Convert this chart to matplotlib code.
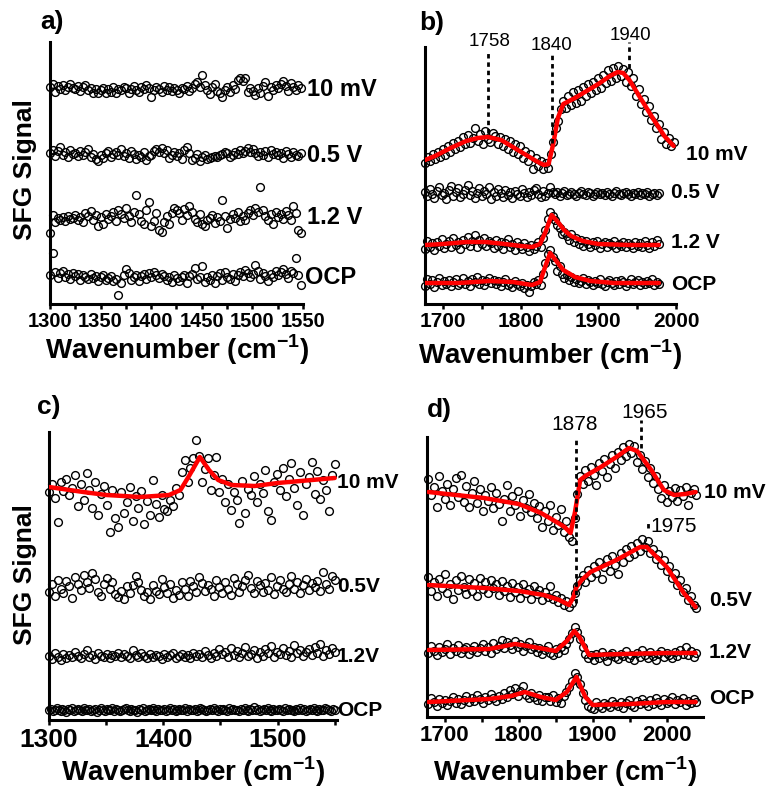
import numpy as np
import matplotlib
matplotlib.use("Agg")
import matplotlib.pyplot as plt
from matplotlib.ticker import FixedLocator

plt.rcParams['font.family'] = ['Liberation Sans', 'DejaVu Sans']
plt.rcParams['mathtext.fontset'] = 'custom'
plt.rcParams['mathtext.rm'] = 'Liberation Sans'
plt.rcParams['mathtext.bf'] = 'Liberation Sans:bold'

# ---------------- DATA (SFG signal, a.u.) ----------------
labels_a = ["10 mV", "0.5 V", "1.2 V", "OCP"]
labels_b = ["10 mV", "0.5 V", "1.2 V", "OCP"]
labels_c = ["10 mV", "0.5V", "1.2V", "OCP"]
labels_d = ["10 mV", "0.5V", "1.2V", "OCP"]

# panel a : offsets of each trace and signal around it
a_range = (1300, 1548)
a_offsets = [214, 149, 86, 27]
a_10mV = [3,6,-2,4,1,5,0,3,6,2, 1,4,-1,3,5,0,2,-3,1,-3, 0,2,-3,1,-2,3,-3,1,0,3,
          2,-3,1,4,0,-2,3,1,5,2, -7,0,3,1,-2,4,0,3,-1,2, 0,-3,2,1,4,-1,2,6,8,3,
          15,5,0,-4,3,6,-1,-3,-7,0, 3,-2,5,1,10,12,9,12,-2,2, -1,-5,2,-3,4,8,-6,3,0,5,
          2,6,9,4,-1,7,3,0,5,2]
a_05V = [2,5,-1,4,8,0,3,-2,5,1, 2,-1,4,0,3,6,-2,1,-4,-6, 0,-3,2,4,-2,1,3,0,6,-1,
         2,-3,4,1,-4,0,-2,3,-5,-1, 0,4,6,3,7,2,5,-3,0,3, -1,2,-4,5,8,2,-5,-3,1,-6,
         -2,0,-4,-3,-2,-1,-2,0,1,3, 2,-2,0,3,1,5,2,4,7,3, 6,2,-1,3,0,4,-2,5,1,3,
         0,2,-3,4,1,-2,3,0,-1,2]
a_12V = [-15,3,-4,0,-2,1,-3,2,-1,0, 3,-2,1,-4,5,2,7,-2,3,-8, 1,-6,4,-1,2,6,-3,8,4,0,
         10,2,-4,6,23,4,-3,-6,8,16, -8,-3,5,-12,-14,-4,2,-6,5,10, 8,5,-2,9,3,12,6,-1,-4,4,
         -6,-8,-2,0,3,-5,1,-3,18,2, -10,-1,4,0,6,-3,2,-2,5,8, 3,10,6,31,8,2,-2,4,-6,6,
         1,4,-1,7,3,-2,12,5,-12,-15]
a_OCP = [2,24,5,-1,4,6,0,3,-2,4, 1,3,-3,2,0,-2,3,-1,1,-4, 0,2,-3,-1,1,-4,-2,-18,-6,2,
         8,4,-3,0,2,-4,1,3,-2,4, 0,5,2,-1,3,1,-3,0,-5,2, -1,-4,0,2,-6,1,3,9,-2,0,
         11,-5,0,-3,2,-6,1,4,-3,5, 0,-2,3,-4,2,5,1,7,4,0, 3,12,6,-2,4,1,-4,3,0,6,
         2,5,8,3,-1,6,4,19,2,-8]

# panel b
b10_range = (1677, 1997)
b_range = (1677, 1978)
b_10mV = [141,147,143,150,145,152,147,155,149,158, 152,161,155,163,157,167,160,169,161,166,
          176,163,170,160,173,165,162,171,168,160, 167,158,165,155,163,152,160,150,158,146,
          153,143,150,135,146,138,143,135,141,136, 150,162,176,183,195,203,196,208,199,212,
          201,214,203,217,208,220,211,222,214,226, 216,229,221,234,223,236,226,238,228,235,
          222,232,218,226,208,215,200,205,192,198, 184,188,176,180,165,172,160,166,158,162]
b_05V = [112,108,115,110,106,113,117,109,111,105, 114,118,108,112,116,107,110,114,119,109,
         113,106,111,116,108,113,110,117,105,112, 108,115,111,107,114,109,112,106,113,110,
         108,115,111,107,112,109,114,116,110,107, 113,108,111,117,112,
         110,112,108,111,113,109,110,112,110,108, 111,113,110,109,112,111,108,110,112,110,
         111,109,112,110,108,111,113,110,109,111, 112,110,108,111,110,112,109,111,110,112,
         108,110,111,109,111]
b_12V = [55,63,57,61,54,62,58,65,56,60, 63,57,66,59,62,55,64,60,67,58, 63,69,57,64,60,66,58,63,61,56,
         64,58,62,55,61,65,57,60,54,62, 58,55,61,57,53,59,55,58,62,57, 66,74,85,92,88,84,79,76,70,72,
         68,64,70,62,66,60,64,58,63,60, 57,62,59,63,56,60,62,57,61,59, 63,56,60,58,62,57,61,59,56,62,
         58,61,57,63,59,56,62,58,64,60]
b_OCP = [18,25,20,24,17,22,26,19,23,20, 24,18,22,25,19,21,26,20,23,18, 25,22,27,20,24,19,23,26,21,24,
         20,23,18,22,25,19,21,17,23,20, 18,21,16,19,12,18,22,20,24,19, 30,41,50,54,47,43,33,38,30,26,
         29,24,27,22,25,21,23,26,20,24, 22,19,23,21,25,20,18,22,24,21, 19,23,20,24,22,18,21,25,20,22,
         24,19,22,20,23,21,25,19,22,20]
b10_fit_x = [1677,1690,1710,1730,1745,1758,1775,1790,1805,1820,1830,1836,1842,1848,1855,1870,
             1885,1900,1915,1925,1932,1940,1955,1970,1985,1997]
b10_fit_y = [144,148,156,163,166,167,164,157,150,143,139,140,160,186,200,206,
             213,220,228,232,231,224,205,186,168,158]
b12_fit_x = [1677,1700,1730,1755,1780,1800,1815,1825,1832,1840,1848,1856,1865,1880,1900,1940,1978]
b12_fit_y = [59,60,62,62,60,58,57,60,72,89,82,74,68,63,60,59,59]
bOCP_fit_x = [1677,1720,1760,1790,1815,1825,1832,1838,1845,1855,1870,1890,1920,1978]
bOCP_fit_y = [21,21,23,22,19,22,38,51,44,34,27,23,21,21]
b_peaks = [1758, 1840, 1940]

# panel c
c_range = (1300, 1550)
c_10mV = [228,236,222,198,238,229,241,225,232,245, 214,236,220,247,230,212,238,205,226,234,
          215,188,230,202,193,228,207,218,233,199, 224,212,229,196,219,205,240,216,203,225,
          211,209,220,214,232,225,248,260,238,252, 262,280,264,238,251,262,230,245,263,228,
          241,218,236,210,228,220,197,239,207,231, 225,244,218,236,227,250,209,200,238,246,
          230,252,224,241,257,232,215,248,205,236, 243,258,226,249,221,240,230,209,245,256]
c_05V = [128,136,124,140,131,127,139,134,122,143, 136,130,145,138,132,147,141,128,124,136,
         142,131,138,126,123,129,121,134,127,135, 144,138,130,124,128,121,135,129,126,141,
         133,127,136,122,130,125,138,131,124,139, 134,128,143,137,129,135,131,124,140,133,
         127,138,131,125,142,136,128,134,140,145, 132,127,139,135,128,137,130,143,126,134,
         140,131,128,136,144,131,138,127,135,141, 130,137,133,139,129,148,136,131,144,140]
c_12V = [64,61,67,63,60,66,62,65,63,68, 64,62,66,70,63,65,61,67,64,63, 66,62,65,64,67,63,66,64,62,70,
         65,63,67,64,62,66,63,65,64,61, 66,63,65,67,62,64,66,63,65,62, 67,64,66,63,69,65,62,67,64,71,
         66,68,63,72,65,69,63,67,73,64, 66,70,62,68,64,71,67,74,63,68, 66,72,65,69,63,75,67,70,64,68,
         71,65,73,67,76,64,70,66,72,68]
c_OCP = [10,11,9,10,12,10,9,11,10,8, 11,10,12,9,10,11,10,9,12,10, 10,11,9,10,11,8,10,12,10,9,
         11,10,10,12,9,11,10,9,10,11, 12,10,9,11,10,10,8,11,10,12, 9,10,11,10,12,10,9,11,10,10,
         11,9,10,12,10,11,9,10,11,10, 10,12,9,11,10,10,11,9,10,12, 11,10,9,10,11,10,12,10,9,11,
         10,11,10,9,12,10,11,10,10,9, 11,10,12,10,9,11,10,13,10,11, 9,10,11,10,12,10,9,11,10,10,
         11,10,9,12,10,11,10,10,9,11, 10,12,10,11,9,10,11,10,12,10, 9,11,10,10,12,11,10,9,11,10]
c10_fit_x = [1300,1330,1350,1380,1405,1415,1422,1432,1440,1448,1460,1480,1500,1530,1550]
c10_fit_y = [233,228,225,223,225,230,243,263,250,240,235,234,237,240,242]

# panel d
d_range = (1678, 2040)
d_10mV = [238,222,230,210,241,226,218,233,212,228, 239,220,242,215,231,210,224,236,214,228,
          206,222,216,230,209,224,213,196,218,232, 206,221,212,226,201,217,209,223,205,214,
          199,211,190,206,196,212,187,200,192,208, 185,196,180,176,199,223,241,233,247,236,
          250,242,232,254,246,258,240,253,262,249, 265,257,270,261,273,264,271,255,262,248,
          256,240,249,234,241,228,219,232,215,226, 220,229,216,227,221,230,212,224,228,222]
d_05V = [140,126,135,121,138,129,143,124,133,118, 137,127,141,130,123,138,126,134,121,139,
         128,135,124,137,129,133,122,136,126,131, 120,134,125,130,119,133,124,128,118,131,
         123,127,117,125,120,131,118,122,115,119, 112,116,110,114,124,131,137,142,135,147,
         140,151,144,155,138,150,158,146,161,152, 143,164,155,168,160,171,163,174,166,178,
         170,176,164,168,158,163,152,157,146,151, 139,144,132,137,125,129,117,121,112,109]
d_12V = [64,71,66,62,70,65,68,73,63,69, 66,72,64,68,70,63,67,71,65,69, 73,66,70,64,74,68,71,77,69,75,
         72,68,76,70,73,66,71,75,68,70, 65,69,63,67,71,64,62,68,64,70, 67,73,78,84,90,85,78,70,63,59,
         62,57,63,59,65,61,56,62,64,60, 58,63,61,66,59,62,57,64,60,67, 62,59,65,61,57,63,66,60,64,62,
         59,65,61,67,63,70,62,66,60,64]
d_OCP = [13,19,15,11,18,14,17,12,16,20, 14,18,13,17,21,15,19,16,22,18, 14,20,17,23,19,16,21,18,24,20,
         27,23,29,21,26,31,22,19,24,20, 17,22,16,20,20,16,22,15,19,14, 21,25,30,36,44,40,33,24,17,11,
         9,8,15,11,9,14,12,10,16,13, 11,15,9,14,17,12,10,16,13,18, 14,11,17,13,19,15,12,18,14,16,
         20,13,17,15,19,12,16,14,18,15]
d10_fit_x = [1678,1753,1800,1830,1851,1862,1870,1876,1883,1890,1911,1930,1949,1960,1979,1996,2010,2025,2039]
d10_fit_y = [225,219,213,204,195,190,184,205,237,241,250,259,269,266,247,227,222,223,225]
d05_fit_x = [1678,1753,1800,1834,1855,1868,1874,1878,1885,1897,1932,1964,1973,2000,2023,2039]
d05_fit_y = [132,129,126,122,117,112,120,130,137,145,157,170,170,150,124,110]
d12_fit_x = [1678,1760,1795,1820,1850,1865,1875,1882,1895,1940,2000,2039]
d12_fit_y = [67,68,73,70,66,76,86,80,62,63,64,64]
dOCP_fit_x = [1678,1760,1790,1808,1830,1850,1865,1878,1890,1900,1950,2000,2039]
dOCP_fit_y = [15,18,21,25,20,17,25,40,20,12,13,15,15]
d_peaks = [1878, 1965, 1975]

# ---------------- FIGURE ----------------
W, H = 768, 793
fig = plt.figure(figsize=(W / 100, H / 100), dpi=100)
fig.patch.set_facecolor('white')


def add_ax(l, t, r, b):
    return fig.add_axes([l / W, 1 - b / H, (r - l) / W, (b - t) / H])


def ftext(px, py, s, **kw):
    fig.text(px / W, 1 - py / H, s, **kw)


def style(ax, xlim, ylim, major, minor, fs):
    ax.set_xlim(*xlim)
    ax.set_ylim(*ylim)
    for s in ['top', 'right']:
        ax.spines[s].set_visible(False)
    for s in ['left', 'bottom']:
        ax.spines[s].set_linewidth(2.2)
    ax.set_yticks([])
    ax.set_xticks(major)
    ax.set_xticklabels([str(v) for v in major], fontsize=fs, fontweight='bold')
    ax.xaxis.set_minor_locator(FixedLocator(minor))
    ax.tick_params(axis='x', which='both', direction='out', length=3.5, width=1.8, pad=2)


mk = dict(ls='none', marker='o', ms=5.6, mfc='none', mec='black', mew=1.0, clip_on=False, zorder=2)
fit_kw = dict(color='#ff0000', lw=3.2, solid_joinstyle='round', solid_capstyle='round', zorder=3)
dash_kw = dict(color='black', lw=2.0, ls=(0, (1.6, 1.4)), clip_on=False, zorder=4)

# panel a
axA = add_ax(50, 42, 303, 304)
for off, ser in zip(a_offsets, [a_10mV, a_05V, a_12V, a_OCP]):
    x = np.linspace(a_range[0], a_range[1], len(ser))
    axA.plot(x, np.array(ser) + off, **mk)
style(axA, (1300, 1550), (0, 262), [1300, 1350, 1400, 1450, 1500, 1550],
      [1325, 1375, 1425, 1475, 1525], 14.5)

# panel b
axB = add_ax(425, 47, 676, 304)
axB.plot(np.linspace(b10_range[0], b10_range[1], len(b_10mV)), b_10mV, **mk)
for ser in [b_05V, b_12V, b_OCP]:
    axB.plot(np.linspace(b_range[0], b_range[1], len(ser)), ser, **mk)
axB.plot(b10_fit_x, b10_fit_y, **fit_kw)
axB.plot(b12_fit_x, b12_fit_y, **fit_kw)
axB.plot(bOCP_fit_x, bOCP_fit_y, **fit_kw)
style(axB, (1677, 2000), (0, 257), [1700, 1800, 1900, 2000], [1750, 1850, 1950], 15)
axB.plot([b_peaks[0]] * 2, [171, 254], **dash_kw)
axB.plot([b_peaks[1]] * 2, [161, 249], **dash_kw)
axB.plot([b_peaks[2]] * 2, [236, 262], **dash_kw)

# panel c
axC = add_ax(49, 432, 337, 720)
for ser in [c_10mV, c_05V, c_12V, c_OCP]:
    axC.plot(np.linspace(c_range[0], c_range[1], len(ser)), ser, **mk)
axC.plot(c10_fit_x, c10_fit_y, **fit_kw)
style(axC, (1300, 1552), (0, 288), [1300, 1400, 1500], [1350, 1450, 1550], 19)

# panel d
axD = add_ax(427, 437, 703, 717)
for ser in [d_10mV, d_05V, d_12V, d_OCP]:
    axD.plot(np.linspace(d_range[0], d_range[1], len(ser)), ser, **mk)
axD.plot(d10_fit_x, d10_fit_y, **fit_kw)
axD.plot(d05_fit_x, d05_fit_y, **fit_kw)
axD.plot(d12_fit_x, d12_fit_y, **fit_kw)
axD.plot(dOCP_fit_x, dOCP_fit_y, **fit_kw)
style(axD, (1676, 2049), (0, 280), [1700, 1800, 1900, 2000], [1750, 1850, 1950], 16)
axD.plot([d_peaks[0]] * 2, [114, 280], **dash_kw)
axD.plot([d_peaks[1]] * 2, [269, 297], **dash_kw)
axD.plot([d_peaks[2]] * 2, [189, 197], **dash_kw)

# ---------------- TEXT ----------------
bold = dict(fontweight='bold', va='center')
for s, (px, py) in zip(labels_a, [(307, 90), (307, 155), (307, 218), (305, 277)]):
    ftext(px, py, s, fontsize=17, ha='left', **bold)
for s, (px, py) in zip(labels_b, [(686, 155), (671, 193), (671, 242), (671, 285)]):
    ftext(px, py, s, fontsize=15, ha='left', **bold)
for s, (px, py) in zip(labels_c, [(337, 482), (337, 587), (337, 657), (337, 710)]):
    ftext(px, py, s, fontsize=15, ha='left', **bold)
for s, (px, py) in zip(labels_d, [(704, 493), (709, 600), (709, 652), (709, 698)]):
    ftext(px, py, s, fontsize=15, ha='left', **bold)

for s, (px, py) in zip([str(v) for v in b_peaks], [(490, 41), (552, 46), (630, 35)]):
    ftext(px, py, s, fontsize=13.5, ha='center', va='center')
for s, (px, py) in zip([str(v) for v in d_peaks], [(575, 425), (645, 412), (674, 527)]):
    ftext(px, py, s, fontsize=15, ha='center', va='center')

for s, (px, py) in zip(['a)', 'b)', 'c)', 'd)'], [(40, 22), (419, 23), (37, 407), (427, 410)]):
    ftext(px, py, s, fontsize=19, ha='left', **bold)

xlab = 'Wavenumber (cm$^{\\mathregular{-1}}$)'
for px, py in [(177, 350), (550, 355), (193, 772), (565, 772)]:
    ftext(px, py, xlab, fontsize=20, ha='center', **bold)
for py in [170, 575]:
    ftext(25, py, 'SFG Signal', fontsize=19, ha='center', rotation=90, **bold)

fig.savefig('out.png', dpi=100)
